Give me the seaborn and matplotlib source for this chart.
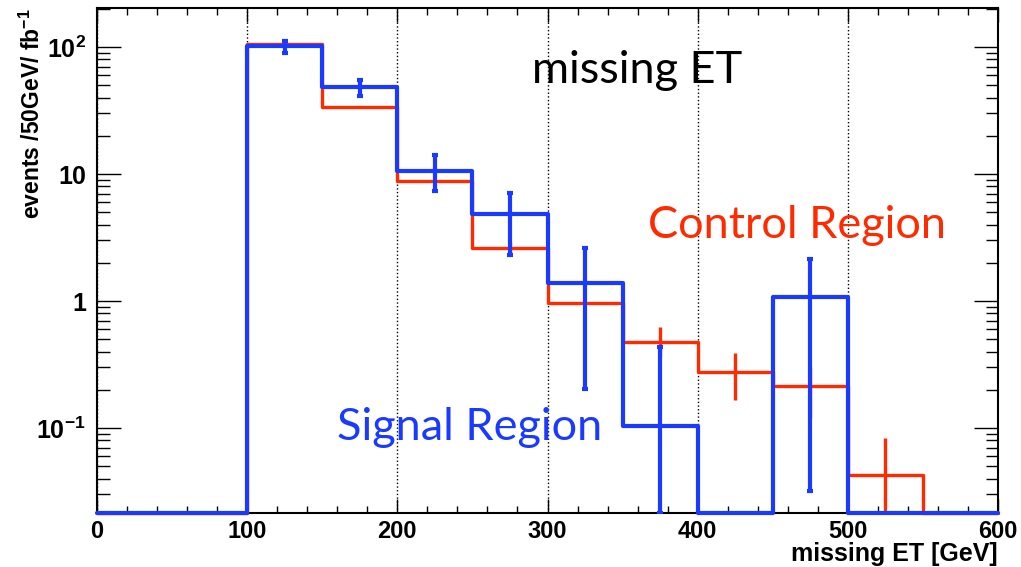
import numpy as np
import matplotlib
matplotlib.use("Agg")
import matplotlib.pyplot as plt
import seaborn as sns
from matplotlib.ticker import MultipleLocator, FixedLocator, FixedFormatter, LogLocator, NullFormatter

sns.set_style("ticks")
plt.rcParams['font.family'] = ['Liberation Sans', 'DejaVu Sans']
plt.rcParams['mathtext.fontset'] = 'custom'
plt.rcParams['mathtext.rm'] = 'Liberation Sans:bold'
plt.rcParams['mathtext.it'] = 'Liberation Sans:bold'
plt.rcParams['mathtext.bf'] = 'Liberation Sans:bold'

# Datos
bordes = [0, 50, 100, 150, 200, 250, 300, 350, 400, 450, 500, 550, 600]
control = [0, 0, 105, 33.7, 8.8, 2.6, 0.96, 0.48, 0.276, 0.214, 0.0426, 0]
senal = [0, 0, 102, 48.4, 10.5, 4.84, 1.39, 0.104, 0, 1.07, 0, 0]

# barras de error de la region de control
ctrl_x = [275, 375, 425, 475, 525]
ctrl_y = [2.6, 0.48, 0.276, 0.214, 0.0426]
ctrl_lo = [2.3, 0.36, 0.166, 0.12, 0.0]
ctrl_hi = [2.9, 0.624, 0.39, 0.30, 0.0834]

# barras de error de la region de senal
sig_x = [125, 175, 225, 275, 325, 375, 475]
sig_y = [102, 48.4, 10.5, 4.84, 1.39, 0.104, 1.07]
sig_lo = [89.7, 41.1, 7.35, 2.30, 0.203, 0.0, 0.0319]
sig_hi = [111, 55, 14.1, 7.08, 2.61, 0.434, 2.14]

yticks = [0.1, 1, 10, 100]
ytick_labels = ["10$^{-1}$", "1", "10", "10$^{2}$"]

ymin, ymax = 0.0214, 203
rojo = "#ff2a00"
azul = "#1a3bff"

fig = plt.figure(figsize=(10.21, 5.67), dpi=100)
ax = fig.add_axes([0.095, 0.095, 0.8825, 0.891])


def escalon(vals):
    v = np.clip(np.array(vals, dtype=float), ymin, None)
    return np.append(v, v[-1])


sns.lineplot(x=bordes, y=escalon(control), drawstyle="steps-post", color=rojo,
             linewidth=2.4, ax=ax, estimator=None, sort=False, clip_on=False, zorder=3)
sns.lineplot(x=bordes, y=escalon(senal), drawstyle="steps-post", color=azul,
             linewidth=3, ax=ax, estimator=None, sort=False, clip_on=False, zorder=5)

cy = np.array(ctrl_y)
ax.errorbar(ctrl_x, cy, yerr=[cy - np.clip(ctrl_lo, ymin, None), np.array(ctrl_hi) - cy],
            fmt="none", ecolor=rojo, elinewidth=2.4, capsize=0, zorder=4)
sy = np.array(sig_y)
ax.errorbar(sig_x, sy, yerr=[sy - np.clip(sig_lo, ymin, None), np.array(sig_hi) - sy],
            fmt="none", ecolor=azul, elinewidth=3, capsize=2.5, capthick=3, zorder=6)

ax.set_yscale("log")
ax.set_xlim(0, 600)
ax.set_ylim(ymin, ymax)

# ejes estilo ROOT
ax.xaxis.set_major_locator(MultipleLocator(100))
ax.xaxis.set_minor_locator(MultipleLocator(20))
ax.yaxis.set_major_locator(FixedLocator(yticks))
ax.yaxis.set_major_formatter(FixedFormatter(ytick_labels))
ax.yaxis.set_minor_locator(LogLocator(base=10, subs=np.arange(2, 10)))
ax.yaxis.set_minor_formatter(NullFormatter())

ax.tick_params(axis="x", which="major", direction="in", length=10, width=1, color="black",
               labelcolor="black", top=True, bottom=True, pad=5, labelsize=17)
ax.tick_params(axis="x", which="minor", direction="in", length=5, width=1, color="black",
               top=True, bottom=True)
ax.tick_params(axis="y", which="major", direction="in", length=17, width=1, color="black",
               labelcolor="black", left=True, right=True, pad=8, labelsize=18)
ax.tick_params(axis="y", which="minor", direction="in", length=9, width=1, color="black",
               left=True, right=True)
for lab in ax.get_xticklabels() + ax.get_yticklabels():
    lab.set_fontweight("bold")

ax.grid(axis="x", which="major", linestyle=":", color="black", linewidth=1)
ax.grid(axis="y", visible=False)
for s in ax.spines.values():
    s.set_linewidth(1.5)
    s.set_color("black")

ax.set_xlabel("missing ET [GeV]", fontsize=18, fontweight="bold", loc="right", color="black")
ax.xaxis.set_label_coords(1.0, -0.058)
ax.set_ylabel("events /50GeV/ fb$^{-1}$", fontsize=16.5, fontweight="bold", loc="top", color="black")
ax.yaxis.set_label_coords(-0.058, 1.0)

ax.text(290, 52, "missing ET", fontsize=32.5, family="Lato", color="black", va="baseline")
ax.text(367, 3.13, "Control Region", fontsize=32.5, family="Lato", color=rojo, va="baseline")
ax.text(160, 0.0805, "Signal Region", fontsize=32.5, family="Lato", color=azul, va="baseline")

plt.savefig("out.png", dpi=100)
plt.close()
